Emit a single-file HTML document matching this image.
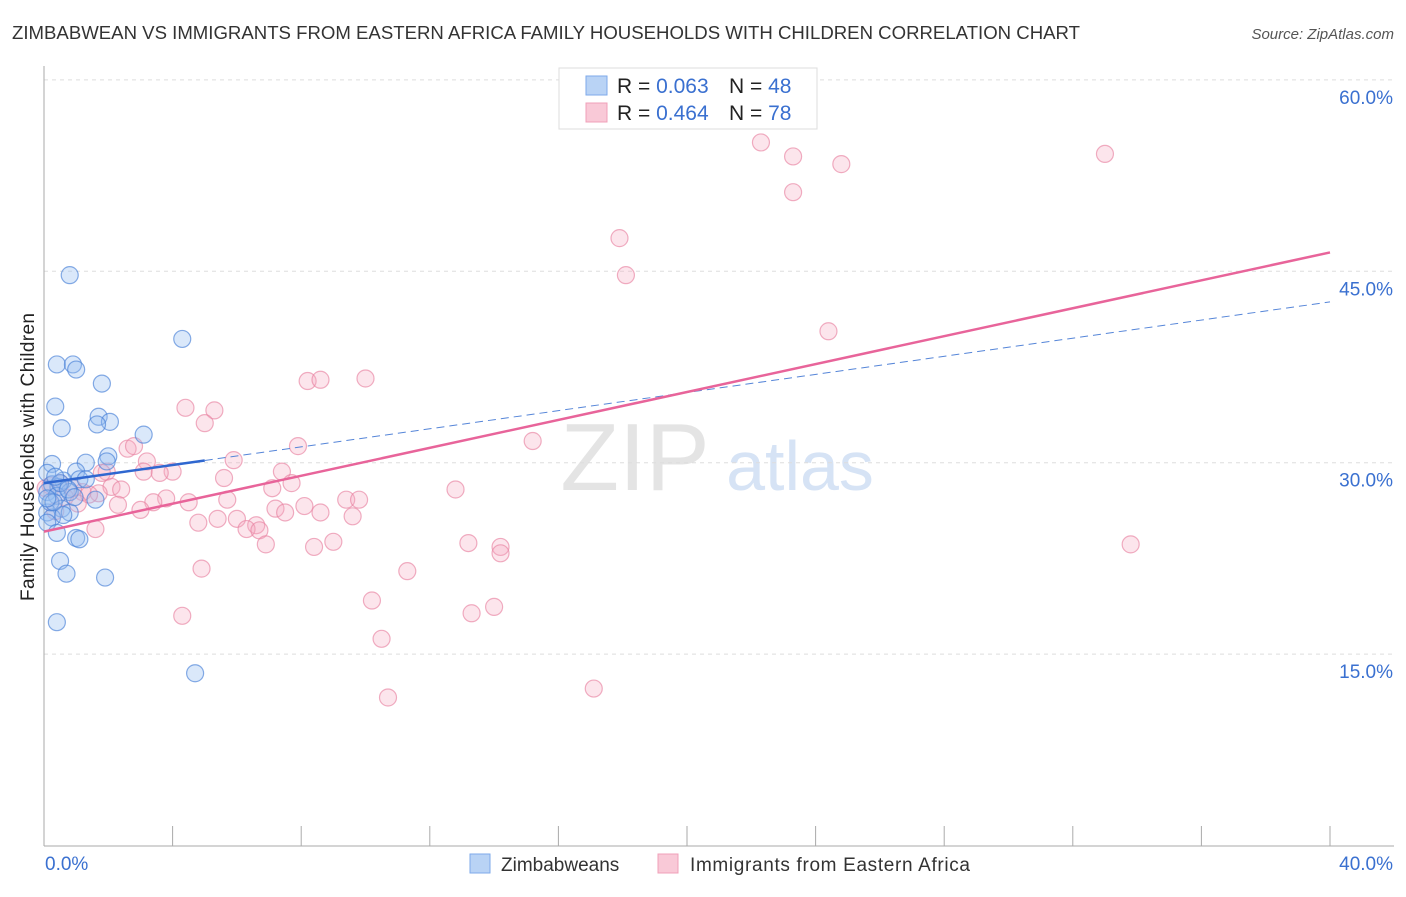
<!DOCTYPE html>
<html><head><meta charset="utf-8"><style>
body{margin:0;background:#fff;font-family:"Liberation Sans",sans-serif;}
svg text{font-family:"Liberation Sans",sans-serif;}
</style></head><body>
<svg id="chart" width="1406" height="892">
<text x="12" y="39" font-size="18" fill="#333" textLength="1068" lengthAdjust="spacingAndGlyphs">ZIMBABWEAN VS IMMIGRANTS FROM EASTERN AFRICA FAMILY HOUSEHOLDS WITH CHILDREN CORRELATION CHART</text>
<text x="1394" y="39" font-size="15" fill="#555" font-style="italic" text-anchor="end">Source: ZipAtlas.com</text>
<text x="635" y="490" font-size="96" fill="#e4e4e4" font-family="Liberation Serif" text-anchor="middle">ZIP</text>
<text x="800" y="490" font-size="70" fill="#d6e3f5" text-anchor="middle">atlas</text>
<g id="grid"></g>
<g id="axes"></g>
<g id="marks"></g>
<text transform="translate(34,457) rotate(-90)" font-size="19" fill="#222" text-anchor="middle" textLength="288">Family Households with Children</text>
<g>
<rect x="559" y="68" width="258" height="61" fill="#fff" stroke="#ddd"/>
<rect x="586" y="76" width="21" height="19" fill="#b9d3f5" stroke="#7eaaea"/>
<rect x="586" y="103" width="21" height="19" fill="#f9c9d7" stroke="#f0a0b8"/>
<text x="617" y="93" font-size="21" fill="#222">R = <tspan fill="#3a70d0">0.063</tspan></text>
<text x="729" y="93" font-size="21" fill="#222">N = <tspan fill="#3a70d0">48</tspan></text>
<text x="617" y="120" font-size="21" fill="#222">R = <tspan fill="#3a70d0">0.464</tspan></text>
<text x="729" y="120" font-size="21" fill="#222">N = <tspan fill="#3a70d0">78</tspan></text>
</g>
<g>
<rect x="470" y="854" width="20" height="19" fill="#b9d3f5" stroke="#7eaaea"/>
<text x="501" y="871" font-size="19" fill="#333">Zimbabweans</text>
<rect x="658" y="854" width="20" height="19" fill="#f9c9d7" stroke="#f0a0b8"/>
<text x="690" y="871" font-size="19" fill="#333" textLength="280">Immigrants from Eastern Africa</text>
</g>
</svg>
<script>
const yTicks=[15,30,45,60];
const yTickLabels=["15.0%","30.0%","45.0%","60.0%"];
const xTicks=[0,4,8,12,16,20,24,28,32,36,40];
const blueX=[0.8,4.3,0.4,0.9,1.0,1.8,0.35,1.7,2.05,1.65,0.55,3.1,2.0,1.95,1.3,0.25,1.0,0.1,0.6,0.25,1.1,0.45,0.1,0.8,0.4,1.6,0.55,0.1,0.8,0.25,0.1,0.4,1.0,1.1,0.5,0.7,1.9,0.4,4.7,0.5,0.75,0.2,0.95,0.3,0.6,0.1,0.35,1.3];
const blueY=[44.7,39.7,37.7,37.7,37.3,36.2,34.4,33.6,33.2,33.0,32.7,32.2,30.5,30.1,30.0,29.9,29.3,29.2,28.6,28.3,28.7,28.1,27.7,27.7,27.4,27.1,26.4,26.1,26.1,25.7,25.3,24.5,24.1,24.0,22.3,21.3,21.0,17.5,13.5,28.4,27.9,26.9,27.3,26.9,25.9,27.2,28.9,28.7];
const pinkX=[22.3,23.3,33.0,24.8,23.3,17.9,18.1,24.4,8.2,8.6,10.0,4.4,5.3,5.0,7.9,15.2,2.6,2.8,5.9,3.2,4.0,3.1,3.6,1.95,1.8,7.4,5.6,7.7,12.8,2.1,2.4,7.1,1.2,1.7,3.8,3.4,5.7,9.4,9.8,4.5,2.3,8.1,3.0,7.2,7.5,8.6,9.6,5.4,4.8,6.0,6.6,6.3,6.7,1.6,9.0,8.4,6.9,13.2,14.2,14.2,33.8,4.9,11.3,10.2,14.0,13.3,4.3,10.5,17.1,10.7,0.5,0.9,1.4,0.2,0.65,1.05,0.35,0.05];
const pinkY=[55.1,54.0,54.2,53.4,51.2,47.6,44.7,40.3,36.4,36.5,36.6,34.3,34.1,33.1,31.3,31.7,31.1,31.3,30.2,30.1,29.3,29.3,29.2,29.3,29.2,29.3,28.8,28.4,27.9,28.1,27.9,28.0,27.7,27.6,27.2,26.9,27.1,27.1,27.1,26.9,26.7,26.6,26.3,26.4,26.1,26.1,25.8,25.6,25.3,25.6,25.1,24.8,24.7,24.8,23.8,23.4,23.6,23.7,23.4,22.9,23.6,21.7,21.5,19.2,18.7,18.2,18.0,16.2,12.3,11.6,28.4,28.0,27.5,28.2,27.3,26.8,26.2,28.0];
const blueFit=[28.4,0.355];
const pinkFit=[24.6,0.547];
const X=v=>44+v*32.15, Y=v=>845.5-v*12.76;
const NS="http://www.w3.org/2000/svg";
function mk(tag,attrs,parent){const e=document.createElementNS(NS,tag);for(const k in attrs)e.setAttribute(k,attrs[k]);document.getElementById(parent).appendChild(e);return e;}
yTicks.forEach((t,i)=>{
 const g=mk('line',{x1:44,x2:1394,y1:Y(t),y2:Y(t),stroke:'#ddd','stroke-dasharray':'4,4'},'grid');
 
 
 const l=mk('text',{x:1393,y:Y(t)+24,'font-size':19,fill:'#3a70d0','text-anchor':'end'},'axes');
 l.textContent=yTickLabels[i];
 
 
});
mk('line',{x1:44,x2:44,y1:66,y2:846,stroke:'#aaa'},'axes');
mk('line',{x1:44,x2:1394,y1:846,y2:846,stroke:'#aaa'},'axes');
xTicks.forEach(t=>{const e=mk('line',{x1:X(t),x2:X(t),y1:826,y2:846,stroke:'#aaa'},'axes');
 
 });
const x0=mk('text',{x:45,y:870,'font-size':19,fill:'#3a70d0'},'axes');x0.textContent="0.0%";


const x1=mk('text',{x:1393,y:870,'font-size':19,fill:'#3a70d0','text-anchor':'end'},'axes');x1.textContent="40.0%";


pinkX.forEach((v,i)=>{const c=mk('circle',{cx:X(v),cy:Y(pinkY[i]),r:8.5,fill:'rgba(244,170,192,0.3)',stroke:'rgba(232,130,162,0.65)','stroke-width':1.2},'marks');
 
 });
blueX.forEach((v,i)=>{const c=mk('circle',{cx:X(v),cy:Y(blueY[i]),r:8.5,fill:'rgba(150,190,240,0.35)',stroke:'rgba(70,128,215,0.65)','stroke-width':1.2},'marks');
 
 });
const bl=mk('line',{x1:X(0),y1:Y(blueFit[0]),x2:X(5),y2:Y(blueFit[0]+blueFit[1]*5),stroke:'#2f67d0','stroke-width':2.5},'marks');


const bd=mk('line',{x1:X(5),y1:Y(blueFit[0]+blueFit[1]*5),x2:X(40),y2:Y(blueFit[0]+blueFit[1]*40),stroke:'#5585d8','stroke-width':1,'stroke-dasharray':'8,5'},'marks');


const pl=mk('line',{x1:X(0),y1:Y(pinkFit[0]),x2:X(40),y2:Y(pinkFit[0]+pinkFit[1]*40),stroke:'#e8649a','stroke-width':2.5},'marks');


</script>
</body></html>
